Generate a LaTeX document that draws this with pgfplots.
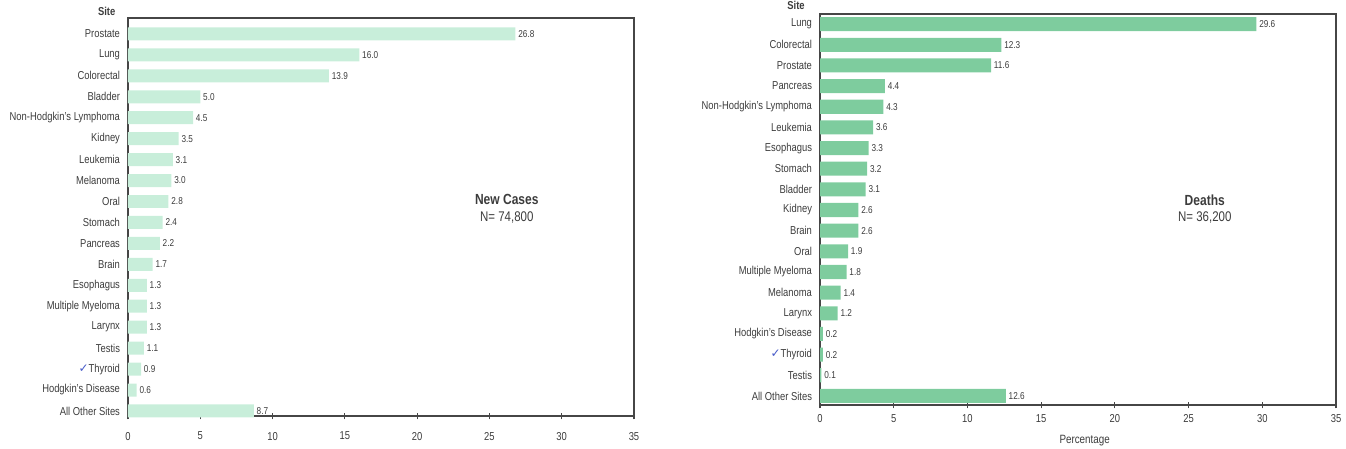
\documentclass[border=0pt]{standalone}
\usepackage{pgfplots}
\pgfplotsset{compat=1.18}
\usepackage{fontspec}
\setmainfont{Liberation Sans}[FakeStretch=0.82]
\newfontfamily\symfont{DejaVu Sans}
\definecolor{lightbar}{RGB}{200,238,218}
\definecolor{darkbar}{RGB}{126,204,158}
\definecolor{txt}{RGB}{60,60,60}
\definecolor{frame}{RGB}{70,70,70}
\definecolor{tick}{RGB}{70,90,200}

\pgfplotsset{
 mybar/.style={
  xbar, scale only axis, y dir=reverse,
  xmin=0, xmax=35, xtick={0,5,...,35},
  ytick={0,...,18},
  xtick pos=bottom,
  axis line style={frame, line width=1pt},
  major tick length=5pt, tick align=center, xtick style={frame, line width=0.8pt},
  ytick style={draw=none},
  tick label style={font=\fontsize{8.6}{10}\selectfont, text=txt},
  /pgf/number format/assume math mode=true,
  point meta=x,
  nodes near coords={\pgfmathprintnumber[fixed,fixed zerofill,precision=1]{\pgfplotspointmeta}},
  every node near coord/.append style={font=\fontsize{7.5}{9}\selectfont, text=txt, anchor=west, inner sep=2pt},
  clip=false,
 }
}

\begin{document}
\begin{tikzpicture}
\useasboundingbox (0,0) rectangle (1009.5pt,336.75pt);

% ---------------- New Cases ----------------
\begin{axis}[mybar, name=L,
  at={(96pt,24.75pt)}, anchor=south west,
  width=379.5pt, height=298.5pt,
  ymin=-0.76, ymax=18.24,
  bar width=0.62,
  xticklabel style={yshift=-6pt},
  yticklabels={Prostate,Lung,Colorectal,Bladder,Non-Hodgkin's Lymphoma,Kidney,Leukemia,Melanoma,Oral,Stomach,Pancreas,Brain,Esophagus,Multiple Myeloma,Larynx,Testis,{\textcolor{tick}{\symfont\fontsize{9}{9}\selectfont ✓}Thyroid},Hodgkin's Disease,All Other Sites},
]
\addplot[draw=none, fill=lightbar] coordinates {
 (26.8,0) (16.0,1) (13.9,2) (5.0,3) (4.5,4) (3.5,5) (3.1,6) (3.0,7) (2.8,8)
 (2.4,9) (2.2,10) (1.7,11) (1.3,12) (1.3,13) (1.3,14) (1.1,15) (0.9,16) (0.6,17) (8.7,18)
};
\node[font=\bfseries\fontsize{11}{12}\selectfont, text=txt] at (axis cs:26.2,7.9) {New Cases};
\node[font=\fontsize{10.5}{11}\selectfont, text=txt] at (axis cs:26.2,8.75) {N= 74,800};
\end{axis}

% ---------------- Deaths ----------------
\begin{axis}[mybar, name=R,
  at={(615pt,33pt)}, anchor=south west,
  width=387pt, height=293.25pt,
  ymin=-0.49, ymax=18.44,
  bar width=0.68,
  xticklabel style={yshift=-1pt},
  yticklabels={Lung,Colorectal,Prostate,Pancreas,Non-Hodgkin's Lymphoma,Leukemia,Esophagus,Stomach,Bladder,Kidney,Brain,Oral,Multiple Myeloma,Melanoma,Larynx,Hodgkin's Disease,{\textcolor{tick}{\symfont\fontsize{9}{9}\selectfont ✓}Thyroid},Testis,All Other Sites},
]
\addplot[draw=none, fill=darkbar] coordinates {
 (29.6,0) (12.3,1) (11.6,2) (4.4,3) (4.3,4) (3.6,5) (3.3,6) (3.2,7) (3.1,8)
 (2.6,9) (2.6,10) (1.9,11) (1.8,12) (1.4,13) (1.2,14) (0.2,15) (0.2,16) (0.1,17) (12.6,18)
};
\node[font=\bfseries\fontsize{11}{12}\selectfont, text=txt] at (axis cs:26.1,8.54) {Deaths};
\node[font=\fontsize{10.5}{11}\selectfont, text=txt] at (axis cs:26.1,9.37) {N= 36,200};
\end{axis}

\node[anchor=base east, font=\bfseries\fontsize{8.6}{10}\selectfont, text=txt] at ([xshift=-6pt,yshift=2pt]L.north west) {Site};
\node[anchor=base east, font=\bfseries\fontsize{8.6}{10}\selectfont, text=txt] at ([xshift=-8pt,yshift=3.2pt]R.north west) {Site};
\node[font=\fontsize{9}{10}\selectfont, text=txt] at ([xshift=5pt,yshift=-27pt]R.south) {Percentage};
\end{tikzpicture}
\end{document}
